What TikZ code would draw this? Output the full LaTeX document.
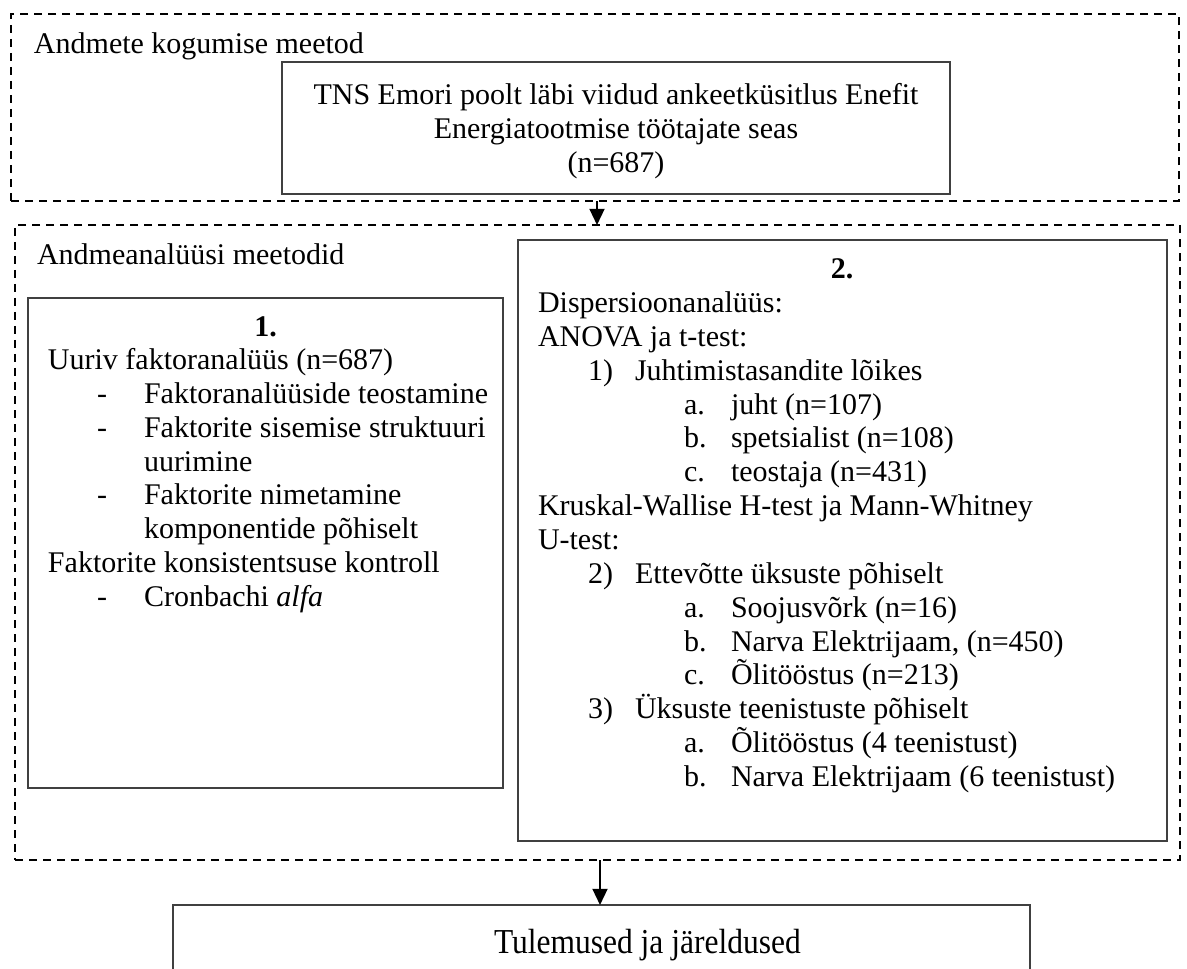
\documentclass[tikz,border=0pt]{standalone}
\usepackage{fontspec}
\setmainfont{Liberation Serif}
\newfontfamily\tallfont[FakeStretch=0.9]{Liberation Serif}
\usetikzlibrary{arrows.meta}
\begin{document}
\begin{tikzpicture}[x=0.4pt,y=-0.4pt,
  txt/.style={inner sep=0pt,outer sep=0pt,anchor=base west,font=\fontsize{12}{13.5}\selectfont},
  ctxt/.style={txt,anchor=base},
  dbox/.style={draw=black,line width=0.8pt,dash pattern=on 3.2pt off 2.4pt,inner sep=0pt,outer sep=0pt,anchor=north west},
  sbox/.style={draw=black!75,line width=0.6pt,inner sep=0pt,outer sep=0pt,anchor=north west},
  arr/.style={line width=0.8pt,-{Triangle[width=6pt,length=6.5pt]}}]
\useasboundingbox (0,0) rectangle (1187,968);
\fill[white] (0,0) rectangle (1187,968);
% dashed frames
\node[dbox,minimum width=467.2pt,minimum height=74.8pt] (coll) at (11,14) {};
\node[dbox,minimum width=466pt,minimum height=254pt] (anal) at (15,225) {};
% top
\node[txt] (lab1) at (34,53) {Andmete kogumise meetod};
\node[sbox,minimum width=267.2pt,minimum height=52.8pt] (survey) at (282,62) {};
\node[ctxt] (s1) at (616,104) {TNS Emori poolt läbi viidud ankeetküsitlus Enefit};
\node[ctxt] (s2) at (616,138) {Energiatootmise töötajate seas};
\node[ctxt] (s3) at (616,172) {(n=687)};
% second frame
\node[txt] (lab2) at (37,264) {Andmeanalüüsi meetodid};
% box 1
\node[sbox,minimum width=190pt,minimum height=196pt] (b1) at (28,298) {};
\node[ctxt,font=\fontsize{12}{13.5}\selectfont\bfseries] (h1) at (265.5,336) {1.};
\node[txt] (p1) at (48,369) {Uuriv faktoranalüüs (n=687)};
\node[txt] (d1) at (97,403) {-};
\node[txt] (p2) at (144,403) {Faktoranalüüside teostamine};
\node[txt] (d2) at (97,437) {-};
\node[txt] (p3) at (144,437) {Faktorite sisemise struktuuri};
\node[txt] (p4) at (144,471) {uurimine};
\node[txt] (d3) at (97,504) {-};
\node[txt] (p5) at (144,504) {Faktorite nimetamine};
\node[txt] (p6) at (144,538) {komponentide põhiselt};
\node[txt] (p7) at (48,572) {Faktorite konsistentsuse kontroll};
\node[txt] (d4) at (97,606) {-};
\node[txt] (p8) at (144,606) {Cronbachi \textit{alfa}};
% box 2
\node[sbox,minimum width=259.6pt,minimum height=240.4pt] (b2) at (518,240) {};
\node[ctxt,font=\fontsize{12}{13.5}\selectfont\bfseries] (h2) at (842,278) {2.};
\node[txt] (q0) at (538,312) {Dispersioonanalüüs:};
\node[txt] (q1) at (538,346) {ANOVA ja t-test:};
\node[txt] (q2n) at (588,380) {1)};
\node[txt] (q2) at (635,380) {Juhtimistasandite lõikes};
\node[txt] (q3n) at (684,414) {a.};
\node[txt] (q3) at (731,414) {juht (n=107)};
\node[txt] (q4n) at (684,447) {b.};
\node[txt] (q4) at (731,447) {spetsialist (n=108)};
\node[txt] (q5n) at (684,481) {c.};
\node[txt] (q5) at (731,481) {teostaja (n=431)};
\node[txt] (q6) at (538,515) {Kruskal-Wallise H-test ja Mann-Whitney};
\node[txt] (q7) at (538,549) {U-test:};
\node[txt] (q8n) at (588,583) {2)};
\node[txt] (q8) at (635,583) {Ettevõtte üksuste põhiselt};
\node[txt] (q9n) at (684,617) {a.};
\node[txt] (q9) at (731,617) {Soojusvõrk (n=16)};
\node[txt] (q10n) at (684,651) {b.};
\node[txt] (q10) at (731,651) {Narva Elektrijaam, (n=450)};
\node[txt] (q11n) at (684,684) {c.};
\node[txt] (q11) at (731,684) {Õlitööstus (n=213)};
\node[txt] (q12n) at (588,718) {3)};
\node[txt] (q12) at (635,718) {Üksuste teenistuste põhiselt};
\node[txt] (q13n) at (684,752) {a.};
\node[txt] (q13) at (731,752) {Õlitööstus (4 teenistust)};
\node[txt] (q14n) at (684,786) {b.};
\node[txt] (q14) at (731,786) {Narva Elektrijaam (6 teenistust)};
% bottom
\begin{scope}
\clip (0,0) rectangle (1187,968);
\node[sbox,minimum width=342.8pt,minimum height=34pt] (res) at (173,905) {};
\end{scope}
\node[txt,font=\tallfont\fontsize{14}{16}\selectfont] (rt) at (494,953) {Tulemused ja järeldused};
% arrows
\coordinate (ax1) at (597,0);
\coordinate (ax2) at (600,0);
\draw[arr] (coll.south -| ax1) -- (anal.north -| ax1);
\draw[arr] (anal.south -| ax2) -- (res.north -| ax2);
\end{tikzpicture}
\end{document}
